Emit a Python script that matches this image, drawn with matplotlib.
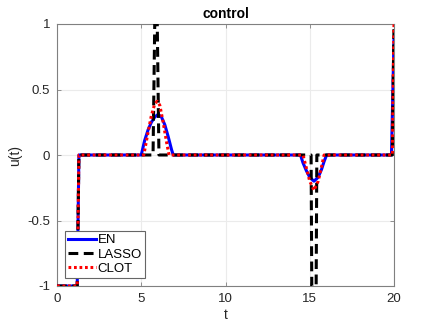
import matplotlib
matplotlib.use("Agg")
import matplotlib.pyplot as plt

# EN (elastic net) control keypoints
en_t = [0, 1.2, 1.3, 5.0, 5.2, 5.4, 5.6, 5.8, 6.0, 6.2, 6.4, 6.6, 6.8, 6.9,
        14.45, 14.6, 14.8, 15.0, 15.25, 15.5, 15.7, 15.85, 16.0, 19.85, 20.0]
en_u = [-1, -1, 0, 0, 0.11, 0.19, 0.25, 0.29, 0.31, 0.29, 0.23, 0.14, 0.04, 0,
        0, -0.06, -0.12, -0.17, -0.20, -0.17, -0.11, -0.05, 0, 0, 0.89]

# LASSO control keypoints
la_t = [0, 1.2, 1.3, 5.7, 5.8, 5.95, 6.05, 15.08, 15.12, 15.38, 15.42, 19.9, 20.0]
la_u = [-1, -1, 0, 0, 1, 1, 0, 0, -1, -1, 0, 0, 1]

# CLOT control keypoints
cl_t = [0, 1.2, 1.3, 5.15, 5.4, 5.6, 5.8, 5.95, 6.1, 6.3, 6.5, 6.65,
        14.6, 14.8, 15.0, 15.25, 15.5, 15.7, 15.85, 19.9, 20.0]
cl_u = [-1, -1, 0, 0, 0.17, 0.30, 0.39, 0.41, 0.38, 0.25, 0.10, 0,
        0, -0.10, -0.20, -0.27, -0.20, -0.09, 0, 0, 1]

xticks = [0, 5, 10, 15, 20]
yticks = [-1, -0.5, 0, 0.5, 1]
ytick_labels = ["-1", "-0.5", "0", "0.5", "1"]

plt.rcParams['font.family'] = ['Liberation Sans', 'DejaVu Sans']

fig = plt.figure(figsize=(4.36, 3.27), dpi=100)
ax = fig.add_axes([57/436, 1 - 286/327, (394-57)/436, (286-24)/327])

ax.plot(en_t, en_u, color=(0, 0, 1), lw=2.2, label="EN", zorder=3)
ax.plot(la_t, la_u, color='k', lw=2.2, ls=(0, (3.2, 1.8)), label="LASSO", zorder=4)
ax.plot(cl_t, cl_u, color=(1, 0, 0), lw=2.2, ls=(0, (0.9, 0.9)), label="CLOT", zorder=5)

ax.set_xlim(0, 20)
ax.set_ylim(-1, 1)
ax.set_xticks(xticks)
ax.set_yticks(yticks)
ax.set_yticklabels(ytick_labels)
ax.grid(True, color=(0.92, 0.92, 0.92), lw=0.8)
ax.set_axisbelow(True)
for s in ax.spines.values():
    s.set_color((0.5, 0.5, 0.5))
    s.set_linewidth(0.8)
ax.tick_params(direction='in', length=3, width=0.6, colors=(0.5, 0.5, 0.5),
               labelcolor=(0.15, 0.15, 0.15), labelsize=9.5, top=True, right=True)
ax.tick_params(axis='y', pad=5)
ax.tick_params(axis='x', pad=5)
ax.set_title("control", fontsize=10, fontweight='bold', pad=4)
ax.set_xlabel("t", fontsize=10, color=(0.15, 0.15, 0.15), labelpad=2)
ax.set_ylabel("u(t)", fontsize=10, color=(0.15, 0.15, 0.15), labelpad=4)

leg = ax.legend(loc='lower left', bbox_to_anchor=(0.023, 0.03), fontsize=9.5,
                handlelength=2.1, handletextpad=0.15, borderpad=0.25,
                labelspacing=0.15, fancybox=False, framealpha=1,
                borderaxespad=0.0)
leg.get_frame().set_edgecolor((0.4, 0.4, 0.4))
leg.get_frame().set_linewidth(0.8)

fig.savefig("out.png", dpi=100)
